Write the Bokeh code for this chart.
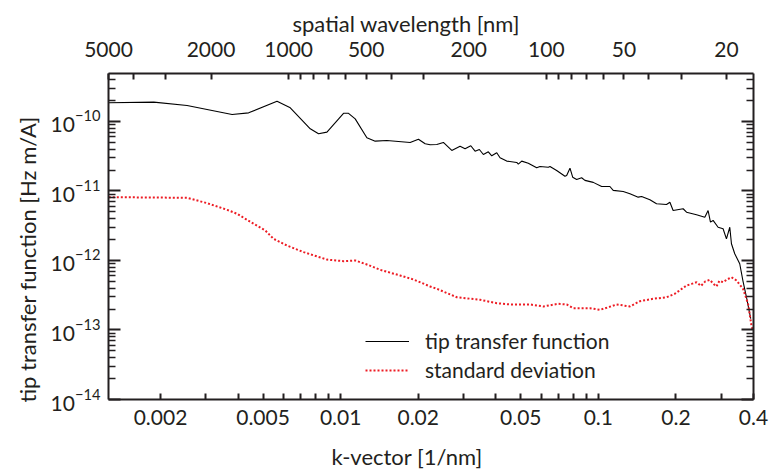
import numpy as np
from bokeh.plotting import figure
from bokeh.models import (LogAxis, FixedTicker, Range1d, LogScale, Title, Legend,
                          LegendItem, CustomJSTickFormatter, NumeralTickFormatter)
from bokeh.embed import file_html
from bokeh.resources import INLINE

# ---------------- data ----------------
k_tip = [0.00126, 0.001883, 0.002536, 0.003791, 0.004395, 0.005664, 0.006377, 0.007623,
         0.008208, 0.008848, 0.01026, 0.01073, 0.01139, 0.01264, 0.01362, 0.01511, 0.01861,
         0.02004, 0.02128, 0.02225, 0.02361, 0.02504, 0.02699, 0.02907, 0.0304, 0.03199,
         0.03324, 0.03454, 0.0358, 0.03742, 0.03858, 0.04034, 0.04155, 0.0441, 0.04823,
         0.04892, 0.05043, 0.05348, 0.05765, 0.05937, 0.06393, 0.06491, 0.0689, 0.07422,
         0.07535, 0.07761, 0.07951, 0.08239, 0.08613, 0.08872, 0.09554, 0.103, 0.1109,
         0.1142, 0.1249, 0.1326, 0.1428, 0.1472, 0.1585, 0.1682, 0.1839, 0.1895, 0.1951,
         0.2133, 0.2199, 0.2404, 0.2589, 0.2666, 0.2723, 0.2788, 0.2915, 0.3048, 0.3141,
         0.3236, 0.3285, 0.3383, 0.3537, 0.3643, 0.3765, 0.3902]
tip = [1.86e-10, 1.90e-10, 1.70e-10, 1.26e-10, 1.33e-10, 1.96e-10, 1.57e-10, 7.85e-11,
       6.65e-11, 7.02e-11, 1.31e-10, 1.31e-10, 1.09e-10, 5.83e-11, 5.21e-11, 5.33e-11, 4.99e-11,
       5.56e-11, 4.78e-11, 4.62e-11, 4.67e-11, 4.99e-11, 3.83e-11, 4.41e-11, 4.05e-11, 4.47e-11,
       3.74e-11, 3.95e-11, 3.35e-11, 3.66e-11, 3.21e-11, 3.55e-11, 3.01e-11, 2.69e-11, 2.57e-11,
       2.43e-11, 2.69e-11, 2.51e-11, 2.16e-11, 2.25e-11, 2.20e-11, 2.25e-11, 1.97e-11, 1.63e-11,
       1.67e-11, 2.13e-11, 1.58e-11, 1.46e-11, 1.55e-11, 1.42e-11, 1.33e-11, 1.16e-11, 1.16e-11,
       1.02e-11, 9.84e-12, 9.12e-12, 8.15e-12, 8.34e-12, 7.47e-12, 6.54e-12, 6.39e-12, 6.90e-12,
       5.24e-12, 5.55e-12, 4.95e-12, 4.55e-12, 4.20e-12, 5.24e-12, 3.56e-12, 3.77e-12, 3.01e-12,
       2.86e-12, 2.05e-12, 3.01e-12, 1.74e-12, 1.25e-12, 8.97e-13, 4.99e-13, 2.84e-13, 1.46e-13]

k_sd = [0.00126, 0.002536, 0.003032, 0.003625, 0.003963, 0.004597, 0.005101, 0.005494,
        0.006191, 0.007181, 0.008848, 0.01026, 0.01139, 0.01264, 0.01424, 0.01702, 0.01917,
        0.02225, 0.02361, 0.02823, 0.03476, 0.04034, 0.04543, 0.05431, 0.06114, 0.06989,
        0.07535, 0.07993, 0.09277, 0.1014, 0.1077, 0.1177, 0.1326, 0.145, 0.1632, 0.1839,
        0.1981, 0.2199, 0.23, 0.2404, 0.25, 0.26, 0.2707, 0.28, 0.2874, 0.295, 0.3048, 0.315,
        0.3285, 0.3436, 0.3643, 0.3811, 0.3927, 0.3975]
sd = [8.15e-12, 7.98e-12, 6.68e-12, 5.36e-12, 4.70e-12, 3.37e-12, 2.70e-12, 2.05e-12,
      1.64e-12, 1.32e-12, 1.03e-12, 9.77e-13, 1.00e-12, 8.76e-13, 7.34e-13, 6.08e-13, 5.33e-13,
      4.23e-13, 3.92e-13, 2.96e-13, 2.72e-13, 2.43e-13, 2.33e-13, 2.33e-13, 2.18e-13, 2.38e-13,
      2.33e-13, 2.06e-13, 2.06e-13, 1.95e-13, 2.09e-13, 2.33e-13, 2.18e-13, 2.60e-13, 2.81e-13,
      2.96e-13, 3.32e-13, 4.37e-13, 4.6e-13, 4.87e-13, 4.3e-13, 5.0e-13, 5.27e-13, 4.6e-13,
      4.23e-13, 5.1e-13, 4.87e-13, 5.3e-13, 5.75e-13, 5.15e-13, 3.92e-13, 2.38e-13, 1.16e-13,
      9.8e-14]

k_ticks = [0.002, 0.003, 0.004, 0.005, 0.006, 0.007, 0.008, 0.009, 0.01,
           0.02, 0.03, 0.04, 0.05, 0.06, 0.07, 0.08, 0.09, 0.1, 0.2, 0.3, 0.4]
k_labels = {0.002: "0.002", 0.005: "0.005", 0.01: "0.01", 0.02: "0.02",
            0.05: "0.05", 0.1: "0.1", 0.2: "0.2", 0.4: "0.4"}
lam_ticks = [5000, 4000, 3000, 2000, 1000, 900, 800, 700, 600, 500, 400, 300, 200,
             100, 90, 80, 70, 60, 50, 40, 30, 20]
lam_labels = [5000, 2000, 1000, 500, 200, 100, 50, 20]
y_major = [1e-14, 1e-13, 1e-12, 1e-11, 1e-10]
y_minor = [m * 10.0 ** e for e in range(-14, -9) for m in range(2, 10)]

LAM_MAX = 5000.0
K_MIN = 2 * np.pi / LAM_MAX
K_MAX = 0.4
Y_MIN, Y_MAX = 1e-14, 4.9e-10

FONT = "Lato"
TXT = "#231f20"

p = figure(width=771, height=470, x_axis_type="log", y_axis_type="log",
           x_range=Range1d(K_MIN, K_MAX), y_range=Range1d(Y_MIN, Y_MAX),
           x_axis_location=None, y_axis_location=None,
           toolbar_location=None, output_backend="svg",
           min_border_left=108, min_border_right=18, min_border_top=73, min_border_bottom=71)
p.grid.visible = False
p.outline_line_color = None
p.background_fill_color = "white"
p.border_fill_color = "white"

p.extra_x_ranges = {"lam": Range1d(LAM_MAX, 2 * np.pi / K_MAX)}
p.extra_x_scales = {"lam": LogScale()}


def style(ax, maj, mnr):
    ax.axis_line_width = 2
    ax.axis_line_color = TXT
    ax.major_tick_in = maj
    ax.major_tick_out = 0
    ax.minor_tick_in = mnr
    ax.minor_tick_out = 0
    ax.major_tick_line_width = 2
    ax.major_tick_line_color = TXT
    ax.minor_tick_line_width = 1.5
    ax.minor_tick_line_color = TXT
    ax.major_label_text_font = FONT
    ax.major_label_text_font_size = "21px"
    ax.major_label_text_color = TXT


# bottom axis
xb = LogAxis(ticker=FixedTicker(ticks=k_ticks, minor_ticks=[]),
             formatter=NumeralTickFormatter(format="0.[000]"))
xb.major_label_overrides = {t: k_labels.get(t, "") for t in k_ticks}
style(xb, 6, 0)
xb.major_label_standoff = 10
# invisible spacer so that the title below sits lower
xb.axis_label = "\u00a0"
xb.axis_label_text_font_size = "8px"
xb.axis_label_standoff = 0
p.add_layout(xb, "below")

# top axis (spatial wavelength)
xt = LogAxis(x_range_name="lam", ticker=FixedTicker(ticks=lam_ticks, minor_ticks=[]),
             formatter=NumeralTickFormatter(format="0"))
xt.major_label_overrides = {t: ("" if t not in lam_labels else str(t)) for t in lam_ticks}
style(xt, 6, 0)
xt.major_label_standoff = 17
p.add_layout(xt, "above")

# left axis
yl = LogAxis(ticker=FixedTicker(ticks=y_major, minor_ticks=y_minor))
style(yl, 12, 7)
yl.major_label_standoff = 8
p.add_layout(yl, "left")

# right axis
yr = LogAxis(ticker=FixedTicker(ticks=y_major, minor_ticks=y_minor),
             formatter=CustomJSTickFormatter(code="return ''"))
style(yr, 12, 7)
yr.major_label_standoff = 0
p.add_layout(yr, "right")

r_tip = p.line(k_tip, tip, line_color="black", line_width=1.1)
r_sd = p.line(k_sd, sd, line_color="#ed1c24", line_width=2, line_dash="2 2")

legend = Legend(items=[LegendItem(label="tip transfer function", renderers=[r_tip]),
                       LegendItem(label="standard deviation", renderers=[r_sd])],
                location=(257, 17), glyph_width=44, glyph_height=22, label_height=22,
                label_standoff=16, spacing=4, padding=0, margin=0,
                border_line_color=None, background_fill_alpha=0,
                label_text_font=FONT, label_text_font_size="21px",
                label_text_color=TXT)
p.add_layout(legend, "center")


def title(text, offset, standoff, size="22px"):
    return Title(text=text, align="left", offset=offset, text_font=FONT,
                 text_font_size=size, text_font_style="normal", text_color=TXT,
                 standoff=standoff)


p.add_layout(title("k-vector [1/nm]", 223, 2), "below")
p.add_layout(title("spatial wavelength [nm]", 184, 4), "above")
p.add_layout(title("tip transfer function [Hz m/A]", -3, 14), "left")

open("out.html", "w").write(file_html(p, INLINE))
